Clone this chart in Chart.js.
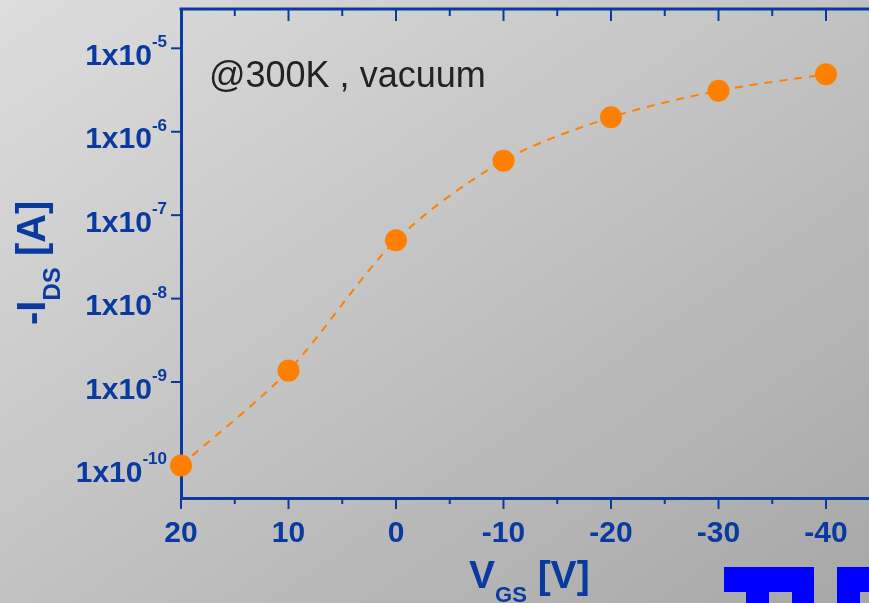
<!DOCTYPE html>
<html><head><meta charset="utf-8">
<script src="https://cdn.jsdelivr.net/npm/chart.js@4"></script>
<style>
html,body{margin:0;padding:0;background:#c0c0c0;}
#wrap{position:relative;width:869px;height:603px;background:linear-gradient(to bottom right,#dddddd,#a7a7a7);overflow:hidden;}
#c{position:absolute;left:0;top:0;}
.logo{position:absolute;background:#0000ff;}
</style></head><body>
<div id="wrap">
<canvas id="c" width="869" height="603"></canvas>
<div class="logo" style="left:724px;top:567px;width:90px;height:25px"></div>
<div class="logo" style="left:746px;top:592px;width:23px;height:11px"></div>
<div class="logo" style="left:792px;top:592px;width:22px;height:11px"></div>
<div class="logo" style="left:837px;top:567px;width:32px;height:25px"></div>
<div class="logo" style="left:837px;top:592px;width:23px;height:11px"></div>
</div>
<script>
// ---- data ----
const vgs = [20, 10, 0, -10, -20, -30, -40];
const ids = [1.0e-10, 1.37e-9, 5.0e-8, 4.5e-7, 1.49e-6, 3.1e-6, 4.9e-6];
const xMajorTicks = [20, 10, 0, -10, -20, -30, -40];
const xMinorTicks = [15, 5, -5, -15, -25, -35];
const yTickExponents = [-10, -9, -8, -7, -6, -5];
const annotationText = '@300K , vacuum';
const xTitleParts = ['V', 'GS', ' [V]'];
const yTitleParts = ['-I', 'DS', ' [A]'];

const AX = '#0a3aa0';
const ORANGE = '#ff8000';
const FF = '"Liberation Sans", Arial, sans-serif';

function drawParts(ctx, parts, x, y, bigFont, smallFont, subOff) {
  let cx = x;
  parts.forEach((p, i) => {
    const sub = (i === 1);
    ctx.font = sub ? smallFont : bigFont;
    ctx.fillText(p, cx, sub ? y + subOff : y);
    cx += ctx.measureText(p).width;
  });
}

const deco = {
  id: 'deco',
  beforeDatasetsDraw(chart) {
    const ctx = chart.ctx, xs = chart.scales.x, ys = chart.scales.y, a = chart.chartArea;
    ctx.save();
    ctx.strokeStyle = AX;
    ctx.lineWidth = 3;
    ctx.beginPath(); ctx.moveTo(a.left - 1.5, a.top); ctx.lineTo(a.right + 2, a.top); ctx.stroke();
    ctx.lineWidth = 2;
    const tick = (v, lb, lt) => {
      const px = xs.getPixelForValue(v);
      ctx.beginPath(); ctx.moveTo(px, a.bottom); ctx.lineTo(px, a.bottom + lb); ctx.stroke();
      ctx.beginPath(); ctx.moveTo(px, a.top); ctx.lineTo(px, a.top + lt); ctx.stroke();
    };
    xMajorTicks.forEach(v => tick(v, 11, 12));
    xMinorTicks.forEach(v => tick(v, 6, 7));
    yTickExponents.forEach(e => {
      const py = ys.getPixelForValue(Math.pow(10, e));
      ctx.beginPath(); ctx.moveTo(a.left - 10, py); ctx.lineTo(a.left, py); ctx.stroke();
    });
    ctx.restore();
  },
  afterDraw(chart) {
    const ctx = chart.ctx, xs = chart.scales.x, ys = chart.scales.y;
    ctx.save();
    ctx.fillStyle = AX;
    ctx.textBaseline = 'alphabetic';
    ctx.font = 'bold 30px ' + FF;
    ctx.textAlign = 'center';
    xMajorTicks.forEach(v => ctx.fillText(String(v), xs.getPixelForValue(v), 542));
    ctx.textAlign = 'left';
    yTickExponents.forEach(e => {
      const py = ys.getPixelForValue(Math.pow(10, e));
      ctx.font = 'bold 17px ' + FF;
      const sup = String(e);
      const sw = ctx.measureText(sup).width;
      const right = 167;
      ctx.fillText(sup, right - sw, py - 1);
      ctx.font = 'bold 30px ' + FF;
      const mw = ctx.measureText('1x10').width;
      ctx.fillText('1x10', right - sw - mw, py + 16.5);
    });
    drawParts(ctx, xTitleParts, 469, 588, 'bold 39px ' + FF, 'bold 22px ' + FF, 14);
    ctx.save();
    ctx.translate(45, 325);
    ctx.rotate(-Math.PI / 2);
    drawParts(ctx, yTitleParts, 0, 0, 'bold 40px ' + FF, 'bold 24px ' + FF, 15);
    ctx.restore();
    ctx.fillStyle = '#222222';
    ctx.font = '36px ' + FF;
    ctx.fillText(annotationText, 209, 87);
    ctx.restore();
  }
};

new Chart(document.getElementById('c'), {
  type: 'line',
  data: {
    datasets: [{
      data: vgs.map((x, i) => ({ x: x, y: ids[i] })),
      borderColor: ORANGE,
      borderWidth: 2,
      borderDash: [8, 7],
      tension: 0.3,
      pointRadius: 11,
      pointBackgroundColor: ORANGE,
      pointBorderWidth: 0,
      clip: false
    }]
  },
  options: {
    responsive: false,
    animation: false,
    devicePixelRatio: 1,
    layout: { autoPadding: false, padding: { top: 9, right: 0, left: 0, bottom: 0 } },
    plugins: { legend: { display: false }, tooltip: { enabled: false } },
    scales: {
      x: {
        type: 'linear', reverse: true, min: -44, max: 20,
        grid: { display: false, drawTicks: false },
        border: { display: true, color: AX, width: 3 },
        ticks: { display: false },
        afterFit(s) { s.height = 105; }
      },
      y: {
        type: 'logarithmic', min: 4.07e-11, max: 2.96e-5,
        grid: { display: false, drawTicks: false },
        border: { display: true, color: AX, width: 3 },
        ticks: { display: false },
        afterFit(s) { s.width = 181; }
      }
    }
  },
  plugins: [deco]
});
</script>
</body></html>
